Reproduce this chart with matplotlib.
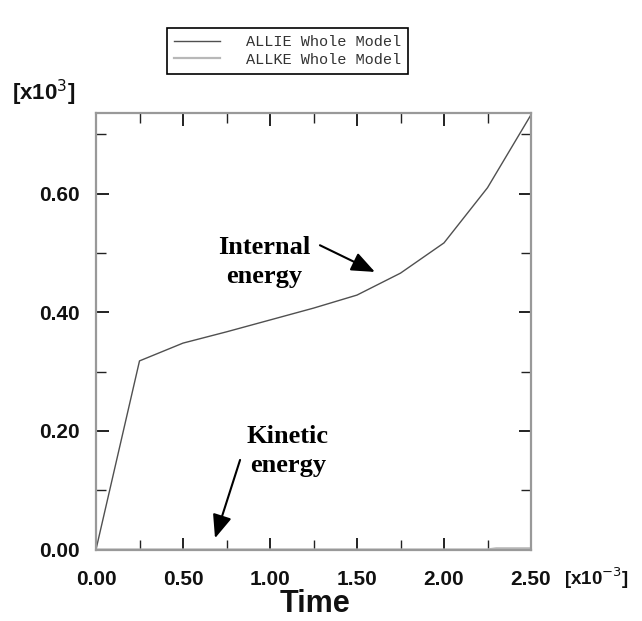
import matplotlib.pyplot as plt
from matplotlib.ticker import MultipleLocator, FormatStrFormatter

# data (time in 1e-3, energy in 1e3)
time_ie = [0.0, 0.25, 0.5, 0.75, 1.0, 1.25, 1.5, 1.75, 2.0, 2.25, 2.5]
allie = [0.0, 0.318, 0.348, 0.367, 0.387, 0.407, 0.429, 0.466, 0.517, 0.610, 0.733]
time_ke = [0.0, 0.5, 1.0, 1.5, 2.0, 2.25, 2.3, 2.5]
allke = [0.0, 0.0, 0.0, 0.0, 0.0, 0.0, 0.002, 0.002]
legend_labels = ['ALLIE Whole Model', 'ALLKE Whole Model']

fig = plt.figure(figsize=(6.42, 6.21), dpi=100)
ax = fig.add_axes([96 / 642, 1 - 549.5 / 621, 435 / 642, 436.5 / 621])

l1, = ax.plot(time_ie, allie, color='#505050', lw=1.0)
l2, = ax.plot(time_ke, allke, color='#b8b8b8', lw=1.6)

ax.set_xlim(0, 2.5)
ax.set_ylim(0, 0.736)
ax.xaxis.set_major_locator(MultipleLocator(0.5))
ax.xaxis.set_minor_locator(MultipleLocator(0.25))
ax.yaxis.set_major_locator(MultipleLocator(0.2))
ax.yaxis.set_minor_locator(MultipleLocator(0.1))
ax.xaxis.set_major_formatter(FormatStrFormatter('%.2f'))
ax.yaxis.set_major_formatter(FormatStrFormatter('%.2f'))

ax.tick_params(which='both', direction='in', top=True, right=True, colors='#222222',
               labelcolor='#111111', labelsize=15)
ax.tick_params(axis='x', which='both', pad=15)
ax.tick_params(axis='y', which='both', pad=12)
ax.tick_params(which='major', length=9, width=1.4)
ax.tick_params(which='minor', length=7, width=1.0)
for lab in ax.get_xticklabels() + ax.get_yticklabels():
    lab.set_fontfamily('Liberation Sans')
    lab.set_fontweight('bold')
for s in ax.spines.values():
    s.set_color('#999999')
    s.set_linewidth(1.6)

fig.text(315 / 642, 1 - 604 / 621, 'Time', ha='center', va='center',
         fontsize=22, family='Liberation Sans', fontweight='bold', color='#111111')
fig.text(564 / 642, 1 - 578 / 621, r'[x10$^{-3}$]', ha='left', va='center',
         fontsize=13.5, family='Liberation Sans', fontweight='bold', color='#111111')
fig.text(12 / 642, 1 - 93 / 621, r'[x10$^{3}$]', ha='left', va='center',
         fontsize=16, family='Liberation Sans', fontweight='bold', color='#111111')

# annotations
ax.text(0.966, 0.485, 'Internal\nenergy', ha='center', va='center', fontsize=19,
        fontweight='bold', family='Liberation Serif', linespacing=1.3)
ax.text(1.103, 0.166, 'Kinetic\nenergy', ha='center', va='center', fontsize=19,
        fontweight='bold', family='Liberation Serif', linespacing=1.3)
arrow = dict(arrowstyle='-|>,head_length=1.1,head_width=0.45', color='black',
             lw=1.5, shrinkA=0, shrinkB=0, mutation_scale=13)
ax.annotate('', xy=(1.603, 0.468), xytext=(1.287, 0.513), arrowprops=arrow)
ax.annotate('', xy=(0.684, 0.019), xytext=(0.828, 0.151), arrowprops=arrow)

leg = fig.legend([l1, l2], legend_labels, loc='upper left',
                 bbox_to_anchor=(167 / 642, 1 - 28 / 621), borderaxespad=0,
                 fancybox=False, edgecolor='black', framealpha=1,
                 prop={'family': 'Liberation Mono', 'size': 11},
                 handlelength=3.0, handletextpad=1.7, labelspacing=0.25,
                 borderpad=0.45)
leg.get_frame().set_linewidth(1.2)
for t in leg.get_texts():
    t.set_color('#333333')

fig.savefig('out.png', dpi=100, facecolor='white')
